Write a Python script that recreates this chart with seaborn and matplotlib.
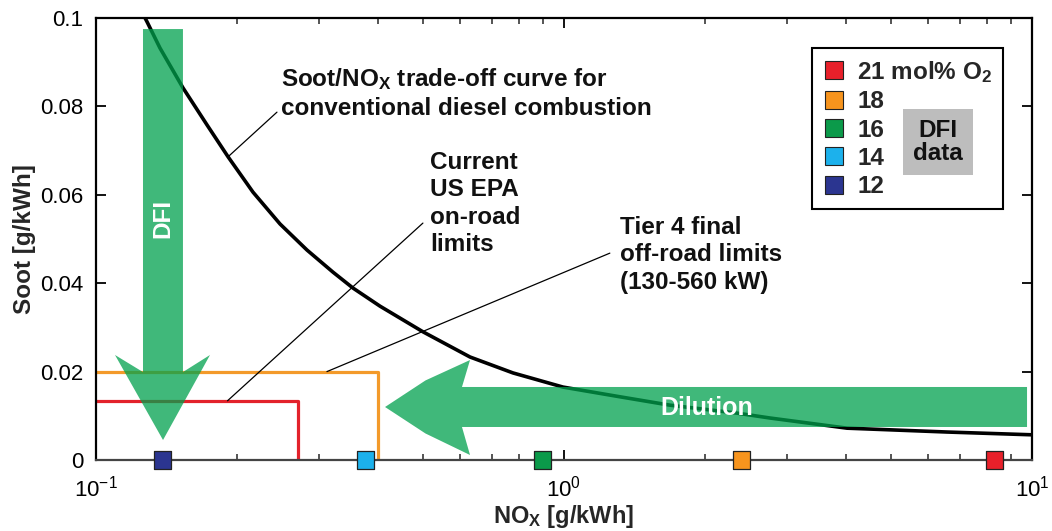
import matplotlib
matplotlib.use("Agg")
import matplotlib.pyplot as plt
import seaborn as sns
import pandas as pd
from matplotlib.patches import Polygon
from matplotlib.lines import Line2D
from matplotlib.ticker import FixedLocator, FixedFormatter, LogLocator, NullFormatter

# --- data -------------------------------------------------------------------
# Conventional diesel soot/NOx trade-off curve (g/kWh)
curve_nox = [0.1273, 0.1286, 0.1370, 0.1534, 0.1727, 0.1915, 0.2165, 0.2473,
             0.2824, 0.3209, 0.3541, 0.4045, 0.4997, 0.6298, 0.7780, 0.9951,
             1.317, 1.685, 2.343, 2.755, 4.025, 6.58, 10.0]
curve_soot = [0.1, 0.0991, 0.0932, 0.0842, 0.0758, 0.0686, 0.0606, 0.0534,
              0.0475, 0.0425, 0.0389, 0.0348, 0.0290, 0.0233, 0.0197, 0.0165,
              0.0143, 0.0124, 0.0106, 0.0095, 0.0072, 0.00633, 0.0057]

# Regulatory limit boxes
epa_nox = [0.1, 0.27, 0.27]
epa_soot = [0.0134, 0.0134, 0.0]
tier4_nox = [0.1, 0.40, 0.40]
tier4_soot = [0.02, 0.02, 0.0]

# DFI measurements at different intake oxygen levels
dfi_o2 = ["21", "18", "16", "14", "12"]
dfi_labels = ["21 mol% O$_\\mathbf{2}$", "18", "16", "14", "12"]
dfi_nox = [8.30, 2.39, 0.90, 0.377, 0.139]
dfi_soot = [0.0, 0.0, 0.0, 0.0, 0.0]
dfi_colors = ["#e8202a", "#f7941d", "#0b9a4a", "#1cb1ec", "#2b3590"]

yticks = [0.0, 0.02, 0.04, 0.06, 0.08, 0.1]
ytick_labels = ["0", "0.02", "0.04", "0.06", "0.08", "0.1"]

# --- style ------------------------------------------------------------------
sns.set_theme(style="ticks")
plt.rcParams["font.family"] = ["Liberation Sans", "DejaVu Sans"]
plt.rcParams["mathtext.fontset"] = "custom"
plt.rcParams["mathtext.rm"] = "Liberation Sans"
plt.rcParams["mathtext.bf"] = "Liberation Sans:bold"
plt.rcParams["mathtext.it"] = "Liberation Sans:italic"

FS = 17.5
GREEN = (0.0, 0.63, 0.30)

fig = plt.figure(figsize=(10.52, 5.31), dpi=100)
ax = fig.add_axes([96 / 1052, 71 / 531, 936 / 1052, 442 / 531])

# trade-off curve
curve_df = pd.DataFrame({"nox": curve_nox, "soot": curve_soot})
sns.lineplot(data=curve_df, x="nox", y="soot", sort=False, estimator=None,
             color="black", lw=2.6, ax=ax, zorder=3)

# limit boxes
sns.lineplot(x=epa_nox, y=epa_soot, sort=False, estimator=None,
             color="#e3222b", lw=2.3, ax=ax, zorder=2)
sns.lineplot(x=tier4_nox, y=tier4_soot, sort=False, estimator=None,
             color="#f39a2a", lw=2.3, ax=ax, zorder=2)

ax.set_xscale("log")
ax.set_xlim(0.1, 10)
ax.set_ylim(0, 0.1)

# DFI data points sitting on the NOx axis
dfi_df = pd.DataFrame({"nox": dfi_nox, "soot": dfi_soot, "o2": dfi_o2})
sns.scatterplot(data=dfi_df, x="nox", y="soot", hue="o2", hue_order=dfi_o2,
                palette=dfi_colors, marker="s", s=150, edgecolor="#222222",
                linewidth=0.9, legend=False, ax=ax, zorder=8, clip_on=False)

# leader lines for the annotations
ax.plot([0.1915, 0.2436], [0.0686, 0.0787], color="black", lw=0.9, zorder=4)
ax.plot([0.191, 0.4995], [0.0134, 0.0536], color="black", lw=0.9, zorder=4)
ax.plot([0.3115, 1.253], [0.02, 0.0468], color="black", lw=0.9, zorder=4)

txt = dict(fontsize=FS, fontweight="bold", ha="left", va="center",
           color="#111111", linespacing=1.25)
ax.text(0.2484, 0.0830,
        "Soot/NO$_\\mathbf{X}$ trade-off curve for\nconventional diesel combustion",
        **txt)
ax.text(0.517, 0.0580, "Current\nUS EPA\non-road\nlimits", **txt)
ax.text(1.316, 0.0464, "Tier 4 final\noff-road limits\n(130-560 kW)", **txt)

# big translucent arrows (axes-fraction coordinates)
dfi_arrow = [(0.0502, 0.975), (0.0929, 0.975), (0.0929, 0.199),
             (0.1218, 0.2376), (0.0716, 0.0452), (0.0203, 0.2376),
             (0.0502, 0.199)]
dil_arrow = [(0.9947, 0.1652), (0.391, 0.1652), (0.3996, 0.2262),
             (0.352, 0.180), (0.3088, 0.1199), (0.352, 0.060),
             (0.3996, 0.0113), (0.391, 0.0747), (0.9947, 0.0747)]
for pts in (dfi_arrow, dil_arrow):
    ax.add_patch(Polygon(pts, closed=True, transform=ax.transAxes,
                         facecolor=GREEN, edgecolor="none", alpha=0.75,
                         zorder=6))
ax.text(0.0716, 0.5475, "DFI", transform=ax.transAxes, rotation=90,
        color="white", fontsize=FS, fontweight="bold", ha="center",
        va="center", zorder=7)
ax.text(0.652, 0.1176, "Dilution", transform=ax.transAxes, color="white",
        fontsize=FS + 0.5, fontweight="bold", ha="center", va="center",
        zorder=7)

# legend
handles = [Line2D([], [], ls="none", marker="s", markersize=13,
                  markerfacecolor=c, markeredgecolor="#222222",
                  markeredgewidth=0.8) for c in dfi_colors]
leg = ax.legend(handles, dfi_labels, loc="upper right",
                bbox_to_anchor=(0.969, 0.932), frameon=True, fancybox=False,
                edgecolor="black", framealpha=1,
                prop={"size": FS, "weight": "bold"}, handlelength=0.9,
                handletextpad=0.5, labelspacing=0.22, borderpad=0.45,
                borderaxespad=0)
leg.get_frame().set_linewidth(1.5)
leg.set_zorder(9)
ax.text(0.8996, 0.719, "DFI\ndata", transform=ax.transAxes, fontsize=FS,
        fontweight="bold", ha="center", va="center", linespacing=1.0,
        zorder=10, color="#111111",
        bbox=dict(boxstyle="square,pad=0.4", fc="#bdbdbd", ec="none"))

# axes, ticks, labels
ax.yaxis.set_major_locator(FixedLocator(yticks))
ax.yaxis.set_major_formatter(FixedFormatter(ytick_labels))
ax.xaxis.set_major_locator(LogLocator(base=10, numticks=5))
ax.xaxis.set_minor_locator(LogLocator(base=10, subs=range(2, 10), numticks=20))
ax.xaxis.set_minor_formatter(NullFormatter())
ax.tick_params(which="major", direction="in", length=7, width=1.3,
               top=True, right=True, labelsize=16, colors="black", pad=9)
ax.tick_params(which="minor", direction="in", length=4, width=1.1,
               top=True, right=True)
ax.tick_params(axis="x", which="major", pad=11)
for s in ax.spines.values():
    s.set_linewidth(1.6)
    s.set_color("black")
ax.spines["bottom"].set_color("#444444")

ax.set_xlabel("NO$_\\mathbf{X}$ [g/kWh]", fontsize=17, fontweight="bold")
ax.set_ylabel("Soot [g/kWh]", fontsize=FS, fontweight="bold")
ax.xaxis.set_label_coords(0.5, -0.097)
ax.yaxis.set_label_coords(-0.064, 0.5)

fig.savefig("out.png", dpi=100, facecolor="white")
